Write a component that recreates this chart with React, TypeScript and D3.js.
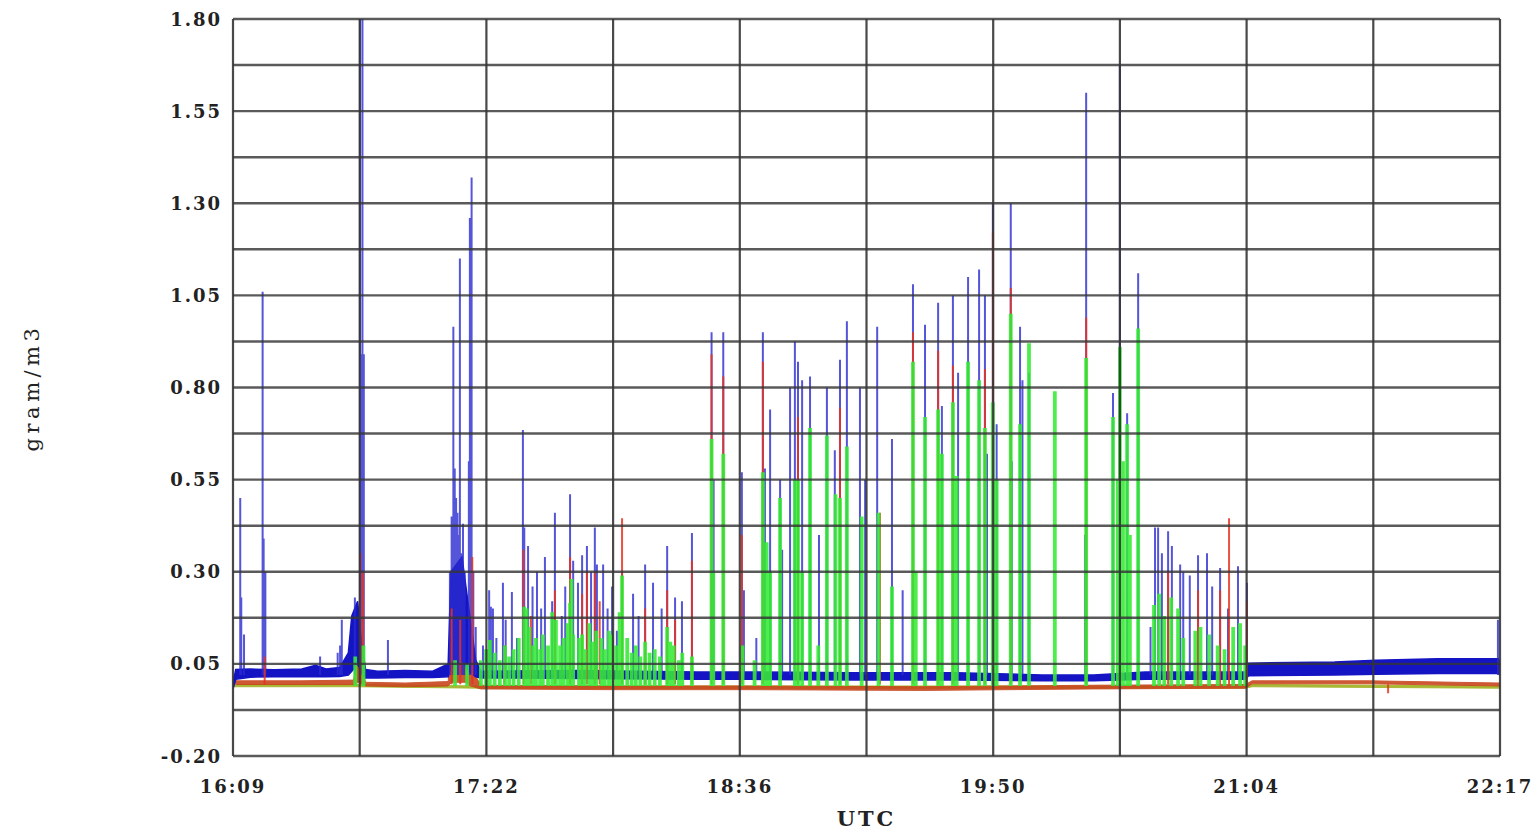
import React from "react";
import * as d3 from "d3";

// time is minutes after 16:09 UTC
const timeDomain = [0, 368];
const valueDomain = [-0.2, 1.8];
const xTickMinutes = [0, 73.6, 147.2, 220.8, 294.4, 368];
const xTickLabels = ["16:09", "17:22", "18:36", "19:50", "21:04", "22:17"];
const xGridStep = 36.8;
const yTickValues = [-0.2, 0.05, 0.3, 0.55, 0.8, 1.05, 1.3, 1.55, 1.8];
const yTickLabels = ["-0.20", "0.05", "0.30", "0.55", "0.80", "1.05", "1.30", "1.55", "1.80"];
const yGridStep = 0.125;
const xTitle = "UTC";
const yTitle = "gram/m3";

// noise envelopes: [t, low, high]
const blueBand = [
  [0, -0.018, -0.002], [0.8, 0.008, 0.035], [5, 0.014, 0.036], [12, 0.015, 0.034],
  [20, 0.015, 0.036], [24, 0.016, 0.046], [27, 0.015, 0.036], [31, 0.016, 0.04],
  [33.5, 0.02, 0.08], [34.5, 0.03, 0.18], [36.2, 0.05, 0.22], [37.2, 0.03, 0.12],
  [38.5, 0.012, 0.035], [42, 0.012, 0.03], [50, 0.013, 0.032], [58, 0.013, 0.03],
  [62.5, 0.015, 0.05], [63.3, 0.04, 0.3], [66.5, 0.06, 0.34], [68.5, 0.03, 0.2],
  [70.5, 0.015, 0.06], [72, 0.012, 0.03], [100, 0.01, 0.032], [135, 0.008, 0.028],
  [150, 0.008, 0.028], [180, 0.006, 0.026], [210, 0.006, 0.026], [235, 0.004, 0.02],
  [250, 0.004, 0.02], [265, 0.008, 0.028], [294, 0.008, 0.028], [295, 0.018, 0.052],
  [320, 0.02, 0.055], [332, 0.022, 0.06], [350, 0.024, 0.064], [367.5, 0.024, 0.064],
  [368, 0.02, 0.055],
];
const redBand = [
  [0, 0.0, 0.018], [1, -0.006, 0.004], [20, -0.006, 0.004], [35, -0.006, 0.006],
  [36.5, 0.0, 0.08], [38.5, -0.01, 0.0], [50, -0.012, -0.002], [62.5, -0.01, 0.002],
  [63.5, 0.0, 0.14], [67.5, 0.0, 0.15], [69, -0.01, 0.04], [72, -0.018, -0.008],
  [110, -0.02, -0.01], [150, -0.02, -0.01], [200, -0.022, -0.012], [250, -0.018, -0.008],
  [294, -0.016, -0.006], [296, -0.004, 0.004], [330, -0.004, 0.004], [368, -0.01, -0.002],
];
const greenBand = [
  [0, -0.012, -0.006], [35, -0.012, -0.006], [72, -0.016, -0.01], [294, -0.016, -0.01],
  [296, -0.012, -0.006], [368, -0.016, -0.01],
];

// spike peaks: [t, value]
const blueSpikes = [
  [2.1, 0.5], [2.4, 0.23], [3.2, 0.13], [8.6, 1.06], [8.9, 0.39], [9.4, 0.3], [25.3, 0.07],
  [30.4, 0.08], [31.1, 0.1], [31.6, 0.17], [35.4, 0.23], [36.9, 1.8], [37.2, 0.89], [37.6, 1.8],
  [38.0, 0.89], [45.0, 0.115],
  [63.0, 0.3], [63.5, 0.45], [64.0, 0.965], [64.4, 0.58], [64.8, 0.5], [65.2, 0.46], [65.6, 0.4],
  [65.9, 1.15], [66.3, 0.35], [66.8, 0.43], [67.3, 0.3], [68.5, 0.6], [68.8, 1.26], [69.3, 1.37],
  [69.8, 0.3], [70.5, 0.15], [72.6, 0.1],
  [74.4, 0.25], [74.9, 0.205], [75.5, 0.2], [76.5, 0.12], [78.4, 0.27], [79.2, 0.17], [81.0, 0.245],
  [82.5, 0.12], [84.2, 0.685], [84.6, 0.42], [85.7, 0.37], [87.0, 0.26], [88.3, 0.3], [89.5, 0.2],
  [90.6, 0.34], [92.7, 0.22], [93.5, 0.46], [95.5, 0.18], [96.5, 0.26], [97.9, 0.51], [98.8, 0.33],
  [100.2, 0.27], [101.4, 0.345], [102.8, 0.37], [104.0, 0.3], [105.1, 0.42], [105.7, 0.32],
  [107.5, 0.32], [108.8, 0.2], [110.1, 0.26], [111.5, 0.14], [113.0, 0.3], [116.2, 0.24],
  [117.8, 0.18], [119.7, 0.32], [122.0, 0.27], [124.5, 0.2], [126.1, 0.37], [128.4, 0.23],
  [130.4, 0.22], [133.3, 0.405],
  [139.0, 0.95], [139.6, 0.55], [142.4, 0.95], [147.8, 0.57], [148.4, 0.25], [152.0, 0.12],
  [153.9, 0.95], [154.5, 0.58], [156.0, 0.74], [158.9, 0.55], [159.5, 0.36], [161.8, 0.8],
  [163.2, 0.925], [164.1, 0.87], [165.3, 0.82], [167.6, 0.83], [170.2, 0.4], [172.5, 0.8],
  [174.8, 0.63], [176.3, 0.875], [178.3, 0.98], [182.1, 0.8], [183.6, 0.55], [187.1, 0.965],
  [191.4, 0.66], [194.5, 0.25], [197.5, 1.08], [201.0, 0.97], [204.8, 1.03], [205.9, 0.75],
  [209.1, 1.05], [210.6, 0.84], [213.5, 1.1], [216.7, 1.12], [218.4, 1.05], [219.0, 0.62],
  [220.7, 1.3], [221.8, 0.7], [225.9, 1.3], [226.2, 0.6], [228.6, 0.965], [229.3, 0.82],
  [231.2, 0.84], [247.5, 0.4], [247.8, 1.6], [255.6, 0.785], [257.6, 1.675], [259.7, 0.73],
  [262.9, 1.11], [266.5, 0.15], [267.8, 0.42], [268.7, 0.42], [269.8, 0.35], [271.6, 0.41],
  [272.7, 0.37], [275.1, 0.32], [276.0, 0.3], [277.9, 0.29], [280.3, 0.345], [282.9, 0.35],
  [284.4, 0.26], [286.7, 0.31], [289.0, 0.2], [291.9, 0.315], [294.5, 0.27], [367.4, 0.17],
];
const redSpikes = [
  [9.2, 0.07], [37.0, 0.35], [37.8, 0.3], [63.5, 0.2], [66.0, 0.17], [69.5, 0.34],
  [78.8, 0.1], [84.4, 0.36], [86.5, 0.18], [93.5, 0.25], [97.9, 0.34], [101.4, 0.24],
  [102.8, 0.3], [105.1, 0.3], [106.5, 0.22], [113.0, 0.445], [119.7, 0.2], [126.1, 0.25],
  [128.4, 0.17], [133.3, 0.33],
  [139.0, 0.89], [142.4, 0.83], [147.8, 0.4], [153.9, 0.87], [164.1, 0.72], [176.3, 0.745],
  [187.9, 0.46], [197.5, 0.95], [204.8, 0.9], [209.1, 0.86], [218.4, 0.85], [220.7, 1.22],
  [225.9, 1.07], [247.8, 0.99], [271.6, 0.3], [280.3, 0.25], [286.7, 0.25], [289.3, 0.445],
  [294.5, 0.22], [335.5, -0.03],
];
const greenSpikes = [
  [35.5, 0.07], [37.9, 0.1], [64.5, 0.06], [68.0, 0.05],
  [72.0, 0.06], [73.5, 0.09], [74.6, 0.115], [76.0, 0.08], [77.5, 0.06], [79.0, 0.1], [80.2, 0.07],
  [81.5, 0.09], [83.0, 0.12], [84.6, 0.205], [85.3, 0.2], [86.0, 0.15], [87.2, 0.1], [88.0, 0.12],
  [89.2, 0.09], [90.0, 0.13], [91.5, 0.1], [92.7, 0.19], [93.8, 0.17], [95.0, 0.1], [96.0, 0.12],
  [97.2, 0.16], [97.9, 0.215], [98.3, 0.28], [98.8, 0.13], [100.5, 0.12], [101.4, 0.13],
  [102.2, 0.09], [103.5, 0.16], [104.5, 0.11], [105.5, 0.14], [107.0, 0.12], [108.0, 0.09],
  [109.2, 0.14], [110.1, 0.13], [111.3, 0.1], [112.3, 0.19], [113.0, 0.29], [114.5, 0.12],
  [115.8, 0.08], [117.0, 0.1], [118.3, 0.07], [119.7, 0.11], [121.0, 0.08], [122.5, 0.09],
  [124.0, 0.07], [126.1, 0.15], [127.0, 0.11], [128.0, 0.1], [129.5, 0.06], [130.5, 0.08],
  [133.3, 0.07],
  [139.0, 0.66], [139.5, 0.3], [142.4, 0.62], [148.0, 0.1], [151.5, 0.06], [153.9, 0.57],
  [155.0, 0.38], [156.0, 0.3], [158.9, 0.5], [163.2, 0.55], [164.1, 0.55], [165.3, 0.3],
  [167.6, 0.69], [170.0, 0.1], [172.5, 0.67], [175.0, 0.51], [176.3, 0.5], [178.3, 0.64],
  [182.6, 0.45], [187.5, 0.46], [191.4, 0.26], [197.5, 0.87], [198.3, 0.3], [201.0, 0.72],
  [204.8, 0.74], [205.9, 0.62], [209.1, 0.76], [210.2, 0.56], [213.5, 0.87], [216.7, 0.82],
  [218.4, 0.69], [220.7, 0.76], [221.8, 0.55], [225.9, 1.0], [228.6, 0.7], [231.2, 0.92],
  [238.7, 0.79], [247.8, 0.88], [255.6, 0.72], [257.0, 0.55], [257.6, 0.91], [258.5, 0.6],
  [259.7, 0.7], [260.5, 0.4], [262.9, 0.96], [267.5, 0.21], [269.0, 0.24], [270.5, 0.18],
  [272.5, 0.23], [274.5, 0.2], [276.0, 0.12], [279.5, 0.14], [281.0, 0.15], [283.5, 0.13],
  [286.0, 0.1], [288.0, 0.09], [290.5, 0.15], [292.5, 0.16], [294.0, 0.1],
];
const blueBase = 0.02;
const redBase = -0.005;
const greenBase = -0.01;

const W = 1538;
const H = 833;
const M = { left: 233, right: 38, top: 19, bottom: 77 };

export default function App() {
  const x = d3.scaleLinear().domain(timeDomain).range([M.left, W - M.right]);
  const y = d3.scaleLinear().domain(valueDomain).range([H - M.bottom, M.top]);

  const area = d3
    .area<number[]>()
    .x((d) => x(d[0]))
    .y0((d) => y(d[1]))
    .y1((d) => y(d[2]));

  const spikes = (data: number[][], base: number) =>
    data.map(([t, v]) => `M${x(t).toFixed(2)},${y(base).toFixed(2)}V${y(v).toFixed(2)}`).join("");

  const vGrid = d3.range(timeDomain[0], timeDomain[1] + 0.001, xGridStep);
  const hGrid = d3.range(valueDomain[0], valueDomain[1] + 0.001, yGridStep);

  const labelFont = "'DejaVu Serif', serif";
  const gridColor = "#363636";

  return (
    <div style={{ position: "absolute", left: 0, top: 0 }}>
      <svg width={W} height={H} style={{ display: "block", background: "#fff" }}>
        <defs>
          <clipPath id="plotClip">
            <rect x={x(timeDomain[0])} y={y(valueDomain[1])} width={x(timeDomain[1]) - x(timeDomain[0])} height={y(valueDomain[0]) - y(valueDomain[1])} />
          </clipPath>
        </defs>
        <rect x={0} y={0} width={W} height={H} fill="#fff" />
        <g clipPath="url(#plotClip)">
          <path d={area(greenBand) || ""} fill="#a8b832" stroke="#a8b832" strokeWidth={1} />
          <path d={area(redBand) || ""} fill="#c8461e" stroke="#c8461e" strokeWidth={1} opacity={0.9} />
          <path d={area(blueBand) || ""} fill="#1414c4" stroke="#1414c4" strokeWidth={1.5} />
          <path d={spikes(blueSpikes, blueBase)} stroke="#2a2ad0" strokeWidth={2} fill="none" opacity={0.8} />
          <path d={spikes(redSpikes, redBase)} stroke="#e8321e" strokeWidth={2} fill="none" opacity={0.85} />
          <path d={spikes(greenSpikes, greenBase)} stroke="#36ea36" strokeWidth={3.8} fill="none" opacity={0.88} />
        </g>
        <g>
          {hGrid.map((v, i) => (
            <line key={"h" + i} x1={x(timeDomain[0])} x2={x(timeDomain[1])} y1={y(v)} y2={y(v)} stroke={gridColor} strokeWidth={2.4} opacity={0.82} />
          ))}
          {vGrid.map((t, i) => (
            <line key={"v" + i} x1={x(t)} x2={x(t)} y1={y(valueDomain[0])} y2={y(valueDomain[1])} stroke={gridColor} strokeWidth={2.2} opacity={0.9} />
          ))}
        </g>
        <g fontFamily={labelFont} fontWeight="bold" fontSize={18} fill="#222">
          {yTickValues.map((v, i) => (
            <text key={"yl" + i} x={x(timeDomain[0]) - 11} y={y(v)} textAnchor="end" dominantBaseline="central" letterSpacing={2}>
              {yTickLabels[i]}
            </text>
          ))}
          {xTickMinutes.map((t, i) => (
            <text key={"xl" + i} x={x(t)} y={y(valueDomain[0]) + 30} textAnchor="middle" dominantBaseline="central" letterSpacing={2}>
              {xTickLabels[i]}
            </text>
          ))}
        </g>
        <text x={(x(timeDomain[0]) + x(timeDomain[1])) / 2} y={y(valueDomain[0]) + 62} textAnchor="middle" dominantBaseline="central" fontFamily={labelFont} fontWeight="bold" fontSize={21} letterSpacing={3} fill="#222">
          {xTitle}
        </text>
        <text transform={`translate(32, ${(y(valueDomain[0]) + y(valueDomain[1])) / 2}) rotate(-90)`} textAnchor="middle" dominantBaseline="central" fontFamily={labelFont} fontSize={21} letterSpacing={4.5} fill="#222">
          {yTitle}
        </text>
      </svg>
    </div>
  );
}
